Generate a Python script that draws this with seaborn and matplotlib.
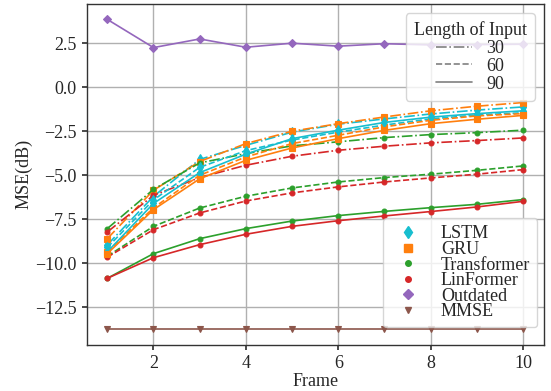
import numpy as np
import pandas as pd
import seaborn as sns
import matplotlib
matplotlib.use("Agg")
import matplotlib.pyplot as plt
from matplotlib.lines import Line2D

frames = [1, 2, 3, 4, 5, 6, 7, 8, 9, 10]
input_lengths = ["30", "60", "90"]

# MSE (dB) per model and input length
lstm_30 = [-8.95, -6.20, -4.10, -3.30, -2.55, -2.10, -1.80, -1.52, -1.30, -1.12]
lstm_60 = [-9.10, -6.40, -4.55, -3.60, -3.00, -2.55, -2.15, -1.80, -1.58, -1.45]
lstm_90 = [-9.35, -6.60, -4.85, -3.80, -2.92, -2.44, -2.00, -1.70, -1.50, -1.34]
gru_30 = [-8.60, -5.85, -4.22, -3.20, -2.50, -2.07, -1.69, -1.34, -1.08, -0.87]
gru_60 = [-9.35, -6.85, -5.00, -3.96, -3.20, -2.73, -2.25, -1.88, -1.63, -1.50]
gru_90 = [-9.45, -6.95, -5.20, -4.15, -3.45, -2.92, -2.45, -2.07, -1.82, -1.60]
trans_30 = [-8.03, -5.80, -4.30, -3.77, -3.33, -3.10, -2.86, -2.69, -2.58, -2.44]
trans_60 = [-9.60, -7.90, -6.86, -6.19, -5.72, -5.38, -5.13, -4.94, -4.72, -4.47]
trans_90 = [-10.85, -9.45, -8.60, -8.03, -7.60, -7.29, -7.05, -6.84, -6.65, -6.38]
lin_30 = [-8.22, -6.14, -5.13, -4.43, -3.92, -3.58, -3.35, -3.16, -3.03, -2.88]
lin_60 = [-9.65, -8.09, -7.14, -6.46, -6.00, -5.66, -5.38, -5.15, -4.94, -4.68]
lin_90 = [-10.85, -9.68, -8.94, -8.35, -7.90, -7.58, -7.31, -7.06, -6.80, -6.48]
outdated = [3.85, 2.25, 2.74, 2.27, 2.50, 2.33, 2.47, 2.40, 2.42, 2.44]
mmse = [-13.75, -13.75, -13.75, -13.75, -13.75, -13.75, -13.75, -13.75, -13.75, -13.75]

models = {
    "LSTM": [lstm_30, lstm_60, lstm_90],
    "GRU": [gru_30, gru_60, gru_90],
    "Transformer": [trans_30, trans_60, trans_90],
    "LinFormer": [lin_30, lin_60, lin_90],
}

sns.set_theme(style="ticks")
plt.rcParams["font.family"] = ["Liberation Serif", "DejaVu Serif"]

colors = {
    "LSTM": "tab:cyan",
    "GRU": "tab:orange",
    "Transformer": "tab:green",
    "LinFormer": "tab:red",
    "Outdated": "tab:purple",
    "MMSE": "tab:brown",
}
markers = {
    "LSTM": ("d", 5),
    "GRU": ("s", 5),
    "Transformer": (".", 7),
    "LinFormer": (".", 7),
    "Outdated": ("D", 4),
    "MMSE": ("v", 4),
}
linestyles = {"30": "-.", "60": "--", "90": "-"}
FS = 13

fig, ax = plt.subplots(figsize=(5.51, 3.91), dpi=100)
fig.subplots_adjust(left=0.157, right=0.987, top=0.99, bottom=0.118)

for length_idx, length in enumerate(input_lengths):
    for name, series in models.items():
        df = pd.DataFrame({"Frame": frames, "MSE": series[length_idx]})
        m, ms = markers[name]
        sns.lineplot(data=df, x="Frame", y="MSE", ax=ax, color=colors[name],
                     linestyle=linestyles[length], marker=m, markersize=ms,
                     markeredgewidth=0.8, markeredgecolor=colors[name],
                     linewidth=1.2, legend=False)

for name, series in (("Outdated", outdated), ("MMSE", mmse)):
    df = pd.DataFrame({"Frame": frames, "MSE": series})
    m, ms = markers[name]
    sns.lineplot(data=df, x="Frame", y="MSE", ax=ax, color=colors[name],
                 linestyle="-", marker=m, markersize=ms, markeredgewidth=0.8,
                 markeredgecolor=colors[name], linewidth=1.2, legend=False)

ax.grid(True, color="#b0b0b0", linewidth=1.0)
ax.set_xticks([2, 4, 6, 8, 10])
ax.set_yticks([2.5, 0.0, -2.5, -5.0, -7.5, -10.0, -12.5])
ax.set_yticklabels(["2.5", "0.0", "\u22122.5", "\u22125.0", "\u22127.5",
                    "\u221210.0", "\u221212.5"])
ax.tick_params(labelsize=FS, length=3.5, color="#333333")
ax.set_xlabel("Frame", fontsize=FS, labelpad=1)
ax.set_ylabel("MSE(dB)", fontsize=FS, labelpad=2)
for sp in ax.spines.values():
    sp.set_color("#333333")
    sp.set_linewidth(1.0)

# Legend for input length (line styles)
style_handles = [Line2D([0], [0], color="gray", linestyle=linestyles[l], linewidth=1.2)
                 for l in input_lengths]
leg1 = ax.legend(style_handles, input_lengths, title="Length of Input",
                 loc="upper right", fontsize=FS, title_fontsize=FS,
                 labelspacing=0.05, handletextpad=0.8, borderpad=0.45)
ax.add_artist(leg1)

# Legend for models (markers)
model_names = ["LSTM", "GRU", "Transformer", "LinFormer", "Outdated", "MMSE"]
marker_handles = []
for name in model_names:
    m, ms = markers[name]
    marker_handles.append(Line2D([0], [0], color=colors[name], linestyle="none",
                                 marker=m, markersize=ms + 1,
                                 markeredgecolor=colors[name]))
ax.legend(marker_handles, model_names, loc="lower right",
          bbox_to_anchor=(0.986, 0.051), borderaxespad=0.0, fontsize=FS,
          labelspacing=-0.08, handletextpad=0.8, borderpad=0.4)

fig.savefig("out.png", dpi=100)
